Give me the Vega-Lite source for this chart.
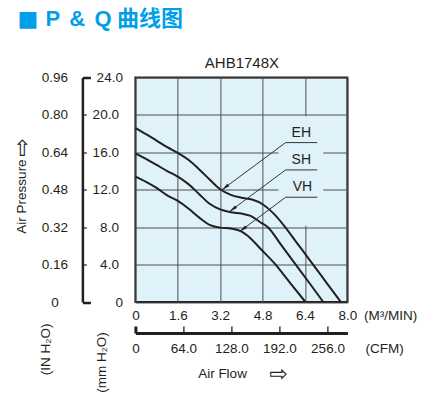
{
  "$schema": "https://vega.github.io/schema/vega-lite/v6.json",
  "width": 212,
  "height": 224.5,
  "autosize": {"type": "none"},
  "padding": {"left": 135.4, "top": 77.5, "right": 90.6, "bottom": 91},
  "background": "white",
  "view": {"fill": "#dff2fa", "stroke": "#231f20", "strokeWidth": 2},
  "config": {
    "axis": {
      "grid": false,
      "labelFont": "Liberation Sans",
      "labelFontSize": 13.5,
      "labelColor": "#231f20",
      "labelFlush": false,
      "labelOverlap": false,
      "labelBound": false,
      "titleFont": "Liberation Sans",
      "titleFontSize": 13.5,
      "titleFontWeight": "normal",
      "titleColor": "#231f20"
    }
  },
  "datasets": {
    "box": [{"x0": 5.4, "x1": 7.09, "y0": 8.15, "y1": 19.85}],
    "curves": [
      {"fan": "EH", "flow": 0, "pressure": 18.6},
      {"fan": "EH", "flow": 0.4, "pressure": 17.95},
      {"fan": "EH", "flow": 0.8, "pressure": 17.25},
      {"fan": "EH", "flow": 1.2, "pressure": 16.55},
      {"fan": "EH", "flow": 1.6, "pressure": 15.95},
      {"fan": "EH", "flow": 2.0, "pressure": 15.2},
      {"fan": "EH", "flow": 2.4, "pressure": 14.2},
      {"fan": "EH", "flow": 2.8, "pressure": 13.1},
      {"fan": "EH", "flow": 3.2, "pressure": 12.05},
      {"fan": "EH", "flow": 3.6, "pressure": 11.45},
      {"fan": "EH", "flow": 4.0, "pressure": 11.15},
      {"fan": "EH", "flow": 4.4, "pressure": 10.95},
      {"fan": "EH", "flow": 4.8, "pressure": 10.45},
      {"fan": "EH", "flow": 5.2, "pressure": 9.5},
      {"fan": "EH", "flow": 5.6, "pressure": 8.2},
      {"fan": "EH", "flow": 6.1, "pressure": 6.3},
      {"fan": "EH", "flow": 6.6, "pressure": 4.4},
      {"fan": "EH", "flow": 7.2, "pressure": 2.1},
      {"fan": "EH", "flow": 7.75, "pressure": 0},
      {"fan": "SH", "flow": 0, "pressure": 15.9},
      {"fan": "SH", "flow": 0.4, "pressure": 15.3},
      {"fan": "SH", "flow": 0.8, "pressure": 14.65},
      {"fan": "SH", "flow": 1.2, "pressure": 14.0},
      {"fan": "SH", "flow": 1.6, "pressure": 13.4},
      {"fan": "SH", "flow": 2.0, "pressure": 12.6},
      {"fan": "SH", "flow": 2.4, "pressure": 11.55},
      {"fan": "SH", "flow": 2.8, "pressure": 10.5},
      {"fan": "SH", "flow": 3.2, "pressure": 9.9},
      {"fan": "SH", "flow": 3.6, "pressure": 9.6},
      {"fan": "SH", "flow": 4.0, "pressure": 9.45},
      {"fan": "SH", "flow": 4.35, "pressure": 9.2},
      {"fan": "SH", "flow": 4.7, "pressure": 8.55},
      {"fan": "SH", "flow": 5.0, "pressure": 8.0},
      {"fan": "SH", "flow": 5.5, "pressure": 6.1},
      {"fan": "SH", "flow": 6.05, "pressure": 4.0},
      {"fan": "SH", "flow": 6.6, "pressure": 1.9},
      {"fan": "SH", "flow": 7.09, "pressure": 0},
      {"fan": "VH", "flow": 0, "pressure": 13.4},
      {"fan": "VH", "flow": 0.4, "pressure": 12.85},
      {"fan": "VH", "flow": 0.8, "pressure": 12.2},
      {"fan": "VH", "flow": 1.2, "pressure": 11.4},
      {"fan": "VH", "flow": 1.6, "pressure": 10.8},
      {"fan": "VH", "flow": 2.0, "pressure": 10.0},
      {"fan": "VH", "flow": 2.4, "pressure": 9.05},
      {"fan": "VH", "flow": 2.8, "pressure": 8.25},
      {"fan": "VH", "flow": 3.2, "pressure": 7.95},
      {"fan": "VH", "flow": 3.6, "pressure": 7.85},
      {"fan": "VH", "flow": 3.95, "pressure": 7.6},
      {"fan": "VH", "flow": 4.35, "pressure": 6.8},
      {"fan": "VH", "flow": 4.7, "pressure": 5.75},
      {"fan": "VH", "flow": 5.29, "pressure": 4.0},
      {"fan": "VH", "flow": 5.85, "pressure": 2.0},
      {"fan": "VH", "flow": 6.42, "pressure": 0}
    ],
    "leaders": [
      {"x": 5.67, "y": 17.04, "x2": 6.86, "y2": 17.04},
      {"x": 5.67, "y": 17.04, "x2": 3.26, "y2": 11.98},
      {"x": 5.67, "y": 14.12, "x2": 6.86, "y2": 14.12},
      {"x": 5.67, "y": 14.12, "x2": 3.55, "y2": 9.66},
      {"x": 5.67, "y": 11.2, "x2": 6.86, "y2": 11.2},
      {"x": 5.67, "y": 11.2, "x2": 3.93, "y2": 7.52}
    ],
    "tips": [
      {"fan": "EH", "x": 3.26, "y": 11.98},
      {"fan": "SH", "x": 3.55, "y": 9.66},
      {"fan": "VH", "x": 3.93, "y": 7.52}
    ],
    "labels": [
      {"fan": "EH", "x": 6.26, "y": 18.07},
      {"fan": "SH", "x": 6.26, "y": 15.19},
      {"fan": "VH", "x": 6.3, "y": 12.33}
    ]
  },
  "layer": [
    {
      "data": {"name": "box"},
      "mark": {"type": "rect", "fill": "#dff2fa"},
      "encoding": {
        "x": {
          "field": "x0", "type": "quantitative",
          "scale": {"domain": [0, 8], "nice": false, "zero": false},
          "axis": {
            "orient": "bottom", "offset": 0,
            "values": [0, 1.6, 3.2, 4.8, 6.4, 8],
            "grid": true, "gridColor": "#4f4f4f", "gridWidth": 1,
            "domain": false, "ticks": false, "labelPadding": 6,
            "labelExpr": "datum.value == 0 ? '0' : format(datum.value, '.1f')",
            "title": "(M³/MIN)", "titleX": 228, "titleY": 13,
            "titleAlign": "left", "titleBaseline": "middle"
          }
        },
        "x2": {"field": "x1"},
        "y": {
          "field": "y0", "type": "quantitative",
          "scale": {"domain": [0, 24], "nice": false, "zero": false},
          "axis": {
            "orient": "left", "offset": 0,
            "values": [0, 4, 8, 12, 16, 20, 24],
            "grid": true, "gridColor": "#4f4f4f", "gridWidth": 1,
            "domain": false, "ticks": false,
            "labelAlign": "center", "labelBaseline": "middle", "labelPadding": 81,
            "labelExpr": "datum.value == 0 ? '0' : format(datum.value * 0.04, '.2f')",
            "title": "(IN H₂O)", "titleAngle": 270, "titleX": -90, "titleY": 271.5,
            "titleAlign": "center", "titleBaseline": "middle"
          }
        },
        "y2": {"field": "y1"}
      }
    },
    {
      "data": {"name": "curves"},
      "mark": {"type": "line", "interpolate": "monotone", "color": "#231f20", "strokeWidth": 2},
      "encoding": {
        "x": {
          "field": "flow", "type": "quantitative",
          "axis": {
            "orient": "bottom", "offset": 31,
            "values": [0, 1.81228, 3.62456, 5.43684, 7.24912],
            "domain": true, "domainColor": "#231f20", "domainWidth": 3,
            "ticks": true, "tickSize": -7, "tickColor": "#231f20",
            "tickWidth": {"condition": {"test": "datum.value == 0", "value": 3}, "value": 1.3},
            "labelPadding": 15,
            "labelExpr": "datum.value == 0 ? '0' : format(datum.value * 35.3147, '.1f')",
            "title": "(CFM)", "titleX": 229.6, "titleY": 15,
            "titleAlign": "left", "titleBaseline": "middle"
          }
        },
        "y": {
          "field": "pressure", "type": "quantitative",
          "axis": {
            "orient": "left", "offset": 53,
            "values": [0, 4, 8, 12, 16, 20, 24],
            "domain": true, "domainColor": "#231f20", "domainWidth": 2.5,
            "ticks": true,
            "tickSize": {"condition": {"test": "datum.value == 0 || datum.value == 24", "value": -8}, "value": -4},
            "tickColor": "#231f20",
            "tickWidth": {"condition": {"test": "datum.value == 0 || datum.value == 24", "value": 2.5}, "value": 1.2},
            "labelAlign": "right", "labelBaseline": "middle", "labelPadding": -32,
            "labelExpr": "datum.value == 0 ? '0' : format(datum.value, '.1f')",
            "title": "(mm H₂O)", "titleAngle": 270, "titleX": 19, "titleY": 284.5,
            "titleAlign": "center", "titleBaseline": "middle"
          }
        },
        "detail": {"field": "fan"}
      }
    },
    {
      "data": {"name": "leaders"},
      "mark": {"type": "rule", "color": "#333333", "strokeWidth": 1},
      "encoding": {
        "x": {
          "field": "x", "type": "quantitative",
          "axis": {
            "orient": "bottom", "offset": 0, "labels": false, "ticks": false, "domain": false,
            "title": "Air Flow", "titleX": 86.6, "titleY": 71,
            "titleAlign": "center", "titleBaseline": "middle"
          }
        },
        "x2": {"field": "x2"},
        "y": {
          "field": "y", "type": "quantitative",
          "axis": {
            "orient": "left", "offset": 0, "labels": false, "ticks": false, "domain": false,
            "title": "Air Pressure", "titleAngle": 270, "titleX": -114, "titleY": 118.5,
            "titleAlign": "center", "titleBaseline": "middle"
          }
        },
        "y2": {"field": "y2"}
      }
    },
    {
      "data": {"name": "tips"},
      "mark": {"type": "point", "shape": "M0,0L0.45,2.2L-0.45,2.2Z", "angle": 233, "size": 55, "filled": true, "color": "#231f20", "opacity": 1},
      "encoding": {
        "x": {
          "field": "x", "type": "quantitative",
          "axis": {
            "orient": "top", "labels": false, "ticks": false, "domain": false,
            "title": "AHB1748X", "titleFontSize": 15, "titleY": -15.5, "titleBaseline": "middle"
          }
        },
        "y": {
          "field": "y", "type": "quantitative",
          "axis": {
            "orient": "left", "labels": false, "ticks": false, "domain": false,
            "title": "■", "titleFont": "DejaVu Sans", "titleFontSize": 22, "titleColor": "#00a0e9",
            "titleAngle": 0, "titleAlign": "center", "titleBaseline": "middle",
            "titleX": -107.9, "titleY": -59
          }
        }
      }
    },
    {
      "data": {"name": "labels"},
      "mark": {"type": "text", "font": "Liberation Sans", "fontSize": 14, "color": "#231f20"},
      "encoding": {
        "x": {
          "field": "x", "type": "quantitative",
          "axis": {
            "orient": "top", "labels": false, "ticks": false, "domain": false,
            "title": "曲线图", "titleFont": "Noto Sans CJK SC", "titleFontSize": 22,
            "titleFontWeight": "bold", "titleColor": "#00a0e9",
            "titleAlign": "left", "titleBaseline": "middle",
            "titleX": -19, "titleY": -59.5
          }
        },
        "y": {
          "field": "y", "type": "quantitative",
          "axis": {
            "orient": "left", "labels": false, "ticks": false, "domain": false,
            "title": "P\u2004\u200A&\u2004\u200AQ", "titleFont": "Liberation Sans", "titleFontSize": 22,
            "titleFontWeight": "bold", "titleColor": "#00a0e9",
            "titleAngle": 0, "titleAlign": "left", "titleBaseline": "middle",
            "titleX": -90.4, "titleY": -59.5
          }
        },
        "text": {"field": "fan"}
      }
    },
    {
      "data": {"name": "tips"},
      "mark": {"type": "point", "opacity": 0},
      "encoding": {
        "x": {
          "field": "x", "type": "quantitative",
          "axis": {
            "orient": "bottom", "offset": 0, "labels": false, "ticks": false, "domain": false,
            "title": "⇨", "titleFont": "DejaVu Sans", "titleFontSize": 22,
            "titleAlign": "center", "titleBaseline": "middle",
            "titleX": 142.6, "titleY": 71
          }
        },
        "y": {
          "field": "y", "type": "quantitative",
          "axis": {
            "orient": "left", "offset": 0, "labels": false, "ticks": false, "domain": false,
            "title": "⇨", "titleFont": "DejaVu Sans", "titleFontSize": 22,
            "titleAngle": 270, "titleAlign": "center", "titleBaseline": "middle",
            "titleX": -114, "titleY": 69.5
          }
        }
      }
    }
  ],
  "resolve": {"axis": {"x": "independent", "y": "independent"}}
}
